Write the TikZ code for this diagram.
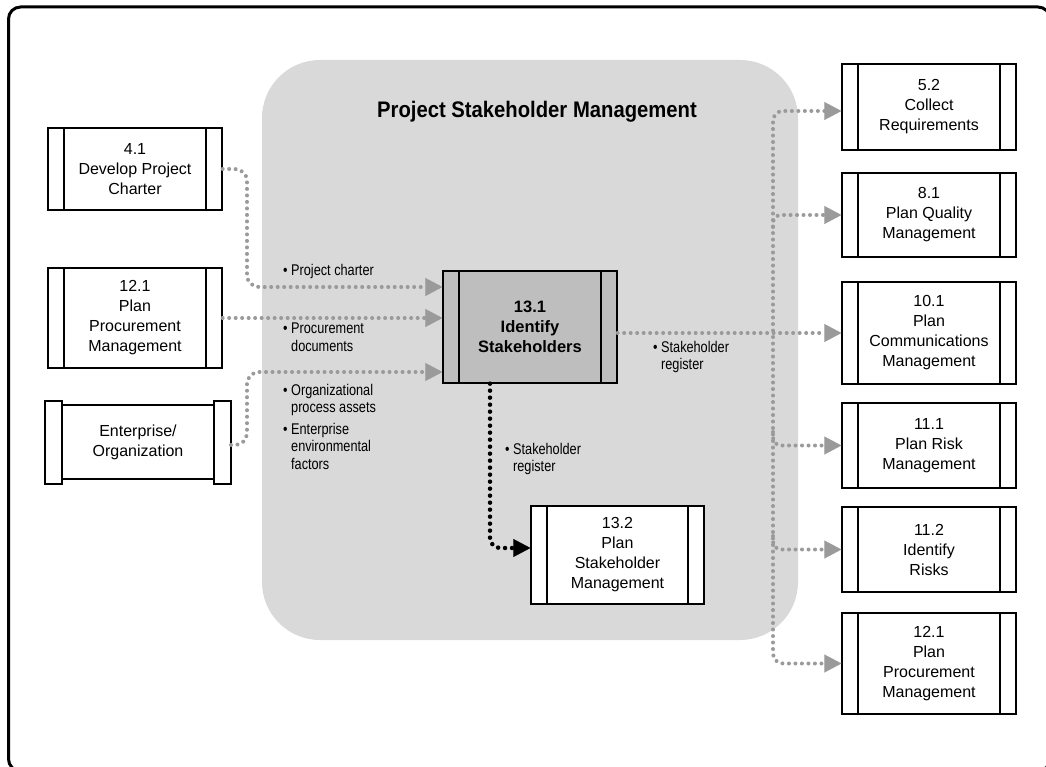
\documentclass[tikz,border=0pt]{standalone}
\usepackage{fontspec}
\setmainfont{Liberation Sans}
\newfontfamily\condfont{Liberation Sans}[FakeStretch=0.82]
\newfontfamily\titlefam{Liberation Sans}[FakeStretch=0.9]
\usetikzlibrary{arrows.meta}
\definecolor{regiongray}{HTML}{D9D9D9}
\definecolor{boxgray}{HTML}{BEBEBE}
\definecolor{flowgray}{HTML}{9A9A9A}
\tikzset{
  proc/.style={draw, line width=1.3pt, fill=white, inner sep=0pt, align=center,
    minimum width=174pt, font=\fontsize{16}{20}\selectfont,
    path picture={
      \draw[line width=1.3pt] ([xshift=16pt]path picture bounding box.north west) -- ([xshift=16pt]path picture bounding box.south west);
      \draw[line width=1.3pt] ([xshift=-16pt]path picture bounding box.north east) -- ([xshift=-16pt]path picture bounding box.south east);}},
  procbar/.style={draw, line width=1.3pt, fill=white},
  lbl/.style={anchor=west, align=left, inner sep=0pt, font=\condfont\fontsize{15.5}{17.5}\selectfont},
  flow/.style={draw=flowgray, line width=4pt, line cap=round, dash pattern=on 0pt off 6.5pt},
  blackflow/.style={draw=black, line width=4.5pt, line cap=round, dash pattern=on 0pt off 7pt},
  gtip/.style={-{Triangle[length=17pt,width=18pt,line width=0.01pt]}},
  gtips/.style={{Triangle[length=17pt,width=18pt,line width=0.01pt]}-{Triangle[length=17pt,width=18pt,line width=0.01pt]}},
}
\begin{document}
\begin{tikzpicture}[x=1pt,y=-1pt]
\useasboundingbox (0,0) rectangle (1046,767);
\begin{scope}
  \clip (0,0) rectangle (1046,767);
  \draw[line width=3pt, rounded corners=12pt] (8.5,7) rectangle (1050,771);
\end{scope}
% region
\fill[regiongray, rounded corners=58pt] (262,60) rectangle (798,640);
\node[font=\titlefam\bfseries\fontsize{22.5}{26}\selectfont] (title) at (537,112) {Project Stakeholder Management};

% left boxes
\node[proc, minimum height=82pt] (n41) at (135,169) {4.1\\Develop Project\\Charter};
\node[proc, minimum height=100pt] (n121l) at (135,318) {12.1\\Plan\\Procurement\\Management};
% enterprise / organization
\draw[procbar] (45,401) rectangle (62,484);
\draw[procbar] (214,401) rectangle (231,484);
\node[draw, line width=1.3pt, fill=white, inner sep=0pt, align=center, minimum width=152pt, minimum height=74pt, font=\fontsize{16}{20}\selectfont] (nent) at (138,442) {Enterprise/\\Organization};

% center
\node[proc, fill=boxgray, minimum height=112pt, font=\bfseries\fontsize{16.5}{20}\selectfont] (n131) at (530,327) {13.1\\Identify\\Stakeholders};
\node[proc, minimum width=173pt, minimum height=98pt] (n132) at (617.5,555) {13.2\\Plan\\Stakeholder\\Management};

% right boxes
\node[proc, minimum height=86pt] (n52) at (929,107) {5.2\\Collect\\Requirements};
\node[proc, minimum height=84pt] (n81) at (929,215) {8.1\\Plan Quality\\Management};
\node[proc, minimum height=102pt] (n101) at (929,333) {10.1\\Plan\\Communications\\Management};
\node[proc, minimum height=85pt] (n111) at (929,445.5) {11.1\\Plan Risk\\Management};
\node[proc, minimum height=85pt] (n112) at (929,549.5) {11.2\\Identify\\Risks};
\node[proc, minimum height=101pt] (n121r) at (929,663.5) {12.1\\Plan\\Procurement\\Management};

% labels
\node[lbl] (l1) at (283,271) {\textbullet\ Project charter};
\node[lbl, anchor=north west] (l2) at (283,323) {\textbullet\ Procurement\\\phantom{\textbullet\ }documents};
\node[lbl, anchor=north west] (l3) at (283,384) {\textbullet\ Organizational\\\phantom{\textbullet\ }process assets};
\node[lbl, anchor=north west] (l4) at (283,423) {\textbullet\ Enterprise\\\phantom{\textbullet\ }environmental\\\phantom{\textbullet\ }factors};
\node[lbl, anchor=north west] (l5) at (653,341) {\textbullet\ Stakeholder\\\phantom{\textbullet\ }register};
\node[lbl, anchor=north west] (l6) at (505,443) {\textbullet\ Stakeholder\\\phantom{\textbullet\ }register};

% coordinates
\coordinate (lbus) at (247,0);
\coordinate (bus) at (773,333);
\coordinate (b81) at (773,227);
\coordinate (b111) at (773,432);
\coordinate (b112) at (773,536);

% left flows
\draw[flow, gtip, rounded corners=12pt] (n41.east) -| (lbus |- 0,287) -- ([yshift=40pt]n131.west);
\draw[flow, gtip] (n121l.east) -- (n121l.east -| n131.west);
\draw[flow, gtip, rounded corners=12pt] ([yshift=-3pt]nent.east -| 231,0) -| (lbus |- 0,372) -- ([yshift=-45pt]n131.west);

% right flows
\draw[flow, gtip] (n131.east |- n101.west) -- (n101.west);
\draw[flow, gtips, rounded corners=10pt] ([yshift=-4pt]n52.west) -| (bus) |- (n121r.west);
\draw[flow, gtip, rounded corners=8pt] (b81) |- (n81.west);
\draw[flow, gtip, rounded corners=8pt] (b111) |- (n111.west);
\draw[flow, gtip, rounded corners=8pt] (b112) |- (n112.west);

% black flow
\draw[blackflow, -{Triangle[length=17pt,width=18pt,line width=0.01pt]}, rounded corners=10pt] ([xshift=-40pt]n131.south) |- ([yshift=7pt]n132.west);
\end{tikzpicture}
\end{document}
